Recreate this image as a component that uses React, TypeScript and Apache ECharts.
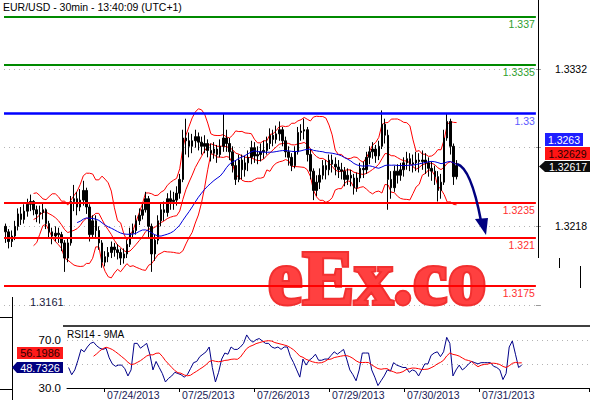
import React, { useEffect, useRef } from "react";
import * as echarts from "echarts";

// ---- categories (hourly bars) ----
const tradingDays = ["07/23/2013", "07/24/2013", "07/25/2013", "07/26/2013", "07/29/2013", "07/30/2013", "07/31/2013"];
const firstHour = [12, 0, 0, 0, 0, 0, 0];
const lastHour = [23, 23, 23, 23, 23, 23, 13];

// ---- price data ----
const firstOpen = 1.3218;
const closes = [
  1.3214, 1.3207, 1.3211, 1.3218, 1.3227, 1.3223, 1.3229, 1.3234, 1.3236, 1.3230, 1.3227, 1.3228,
  1.3230, 1.3220, 1.3214, 1.3211, 1.3213, 1.3212, 1.3206, 1.3195, 1.3206, 1.3236, 1.3238, 1.3232,
  1.3237, 1.3244, 1.3232, 1.3212, 1.3222, 1.3215, 1.3206, 1.3192, 1.3196, 1.3199, 1.3203, 1.3201,
  1.3199, 1.3195, 1.3198, 1.3205, 1.3213, 1.3215, 1.3222, 1.3226, 1.3230, 1.3238, 1.3218, 1.3198,
  1.3208, 1.3222, 1.3230, 1.3228, 1.3238, 1.3236, 1.3237, 1.3242, 1.3252, 1.3282, 1.3280, 1.3276,
  1.3280, 1.3283, 1.3279, 1.3276, 1.3278, 1.3273, 1.3271, 1.3274, 1.3270, 1.3276, 1.3282, 1.3278,
  1.3272, 1.3262, 1.3252, 1.3266, 1.3259, 1.3264, 1.3268, 1.3275, 1.3269, 1.3270, 1.3272, 1.3273,
  1.3278, 1.3284, 1.3281, 1.3285, 1.3288, 1.3280, 1.3272, 1.3268, 1.3262, 1.3272, 1.3286, 1.3287,
  1.3288, 1.3270, 1.3258, 1.3244, 1.3250, 1.3255, 1.3262, 1.3259, 1.3266, 1.3263, 1.3261, 1.3259,
  1.3258, 1.3252, 1.3255, 1.3253, 1.3246, 1.3253, 1.3260, 1.3259, 1.3268, 1.3272, 1.3274, 1.3269,
  1.3276, 1.3292, 1.3284, 1.3252, 1.3246, 1.3258, 1.3255, 1.3259, 1.3264, 1.3267, 1.3263, 1.3264,
  1.3266, 1.3265, 1.3266, 1.3264, 1.3260, 1.3258, 1.3254, 1.3244, 1.3250, 1.3282, 1.3294, 1.3276,
  1.3254, 1.3262,
];
const highs = [
  1.3220, 1.3216, 1.3215, 1.3222, 1.3231, 1.3232, 1.3234, 1.3238, 1.3241, 1.3237, 1.3233, 1.3233,
  1.3235, 1.3231, 1.3222, 1.3217, 1.3218, 1.3217, 1.3214, 1.3208, 1.3210, 1.3240, 1.3248, 1.3243,
  1.3245, 1.3251, 1.3246, 1.3234, 1.3226, 1.3226, 1.3218, 1.3208, 1.3200, 1.3203, 1.3207, 1.3206,
  1.3205, 1.3202, 1.3202, 1.3208, 1.3217, 1.3220, 1.3226, 1.3231, 1.3235, 1.3243, 1.3240, 1.3220,
  1.3212, 1.3226, 1.3235, 1.3236, 1.3242, 1.3244, 1.3243, 1.3247, 1.3256, 1.3288, 1.3296, 1.3286,
  1.3285, 1.3288, 1.3286, 1.3283, 1.3284, 1.3281, 1.3278, 1.3279, 1.3277, 1.3281, 1.3300, 1.3288,
  1.3282, 1.3276, 1.3266, 1.3270, 1.3270, 1.3269, 1.3273, 1.3280, 1.3279, 1.3276, 1.3278, 1.3280,
  1.3283, 1.3289, 1.3288, 1.3291, 1.3294, 1.3290, 1.3283, 1.3276, 1.3271, 1.3276, 1.3290, 1.3292,
  1.3296, 1.3290, 1.3274, 1.3260, 1.3255, 1.3260, 1.3266, 1.3266, 1.3270, 1.3270, 1.3268, 1.3266,
  1.3264, 1.3261, 1.3260, 1.3259, 1.3256, 1.3257, 1.3264, 1.3265, 1.3272, 1.3276, 1.3279, 1.3277,
  1.3280, 1.3302, 1.3296, 1.3288, 1.3258, 1.3262, 1.3263, 1.3264, 1.3268, 1.3272, 1.3271, 1.3270,
  1.3272, 1.3271, 1.3273, 1.3271, 1.3268, 1.3265, 1.3262, 1.3258, 1.3256, 1.3288, 1.3300, 1.3296,
  1.3278, 1.3266,
];
const lows = [
  1.3206, 1.3202, 1.3203, 1.3208, 1.3215, 1.3219, 1.3220, 1.3225, 1.3229, 1.3226, 1.3221, 1.3220,
  1.3223, 1.3216, 1.3209, 1.3205, 1.3207, 1.3206, 1.3200, 1.3185, 1.3192, 1.3204, 1.3229, 1.3226,
  1.3229, 1.3233, 1.3227, 1.3207, 1.3209, 1.3210, 1.3201, 1.3188, 1.3189, 1.3192, 1.3195, 1.3196,
  1.3194, 1.3190, 1.3191, 1.3195, 1.3203, 1.3209, 1.3212, 1.3219, 1.3223, 1.3228, 1.3210, 1.3185,
  1.3193, 1.3205, 1.3218, 1.3222, 1.3225, 1.3230, 1.3230, 1.3233, 1.3238, 1.3250, 1.3270, 1.3268,
  1.3271, 1.3275, 1.3273, 1.3270, 1.3271, 1.3268, 1.3265, 1.3267, 1.3264, 1.3268, 1.3272, 1.3272,
  1.3266, 1.3257, 1.3248, 1.3250, 1.3252, 1.3254, 1.3258, 1.3263, 1.3264, 1.3263, 1.3265, 1.3267,
  1.3270, 1.3274, 1.3276, 1.3278, 1.3280, 1.3276, 1.3268, 1.3262, 1.3258, 1.3260, 1.3270, 1.3280,
  1.3281, 1.3265, 1.3252, 1.3237, 1.3240, 1.3245, 1.3252, 1.3252, 1.3255, 1.3257, 1.3255, 1.3253,
  1.3252, 1.3247, 1.3248, 1.3247, 1.3241, 1.3243, 1.3250, 1.3253, 1.3256, 1.3263, 1.3267, 1.3264,
  1.3266, 1.3274, 1.3278, 1.3230, 1.3238, 1.3243, 1.3249, 1.3251, 1.3254, 1.3259, 1.3258, 1.3257,
  1.3258, 1.3257, 1.3259, 1.3256, 1.3254, 1.3251, 1.3248, 1.3236, 1.3238, 1.3248, 1.3280, 1.3270,
  1.3248, 1.3252,
];

// ---- RSI(14) values ----
const rsi14 = [
  47, 41, 45, 53, 62, 60, 64, 67, 68, 65, 63, 62,
  63, 55, 50, 48, 49, 49, 46, 40, 45, 67, 67, 63,
  65, 67, 58, 45, 52, 47, 42, 35, 38, 40, 43, 42,
  41, 39, 41, 46, 51, 52, 56, 58, 60, 64, 47, 35,
  43, 54, 59, 58, 64, 62, 62, 64, 67, 74, 70, 68,
  70, 71, 69, 67, 67, 64, 63, 64, 62, 64, 64, 56,
  51, 45, 39, 54, 49, 53, 55, 58, 53, 53, 54, 54,
  57, 60, 58, 60, 62, 54, 45, 41, 36, 45, 59, 59,
  59, 45, 39, 32, 36, 40, 45, 44, 51, 49, 48, 47,
  47, 43, 45, 44, 40, 45, 50, 50, 57, 59, 60, 56,
  60, 72, 67, 40, 45, 49, 45, 47, 50, 52, 51, 50,
  51, 51, 51, 51, 48, 47, 45, 37, 42, 64, 69, 58,
  47, 49,
];

// ---- levels / ticks / labels ----
const levelValues = [1.337, 1.3335, 1.33, 1.3235, 1.321, 1.3175];
const levelColors = ["#008a00", "#008a00", "#0000ff", "#ff0000", "#ff0000", "#ff0000"];
const levelLabelColors = ["#2e9e2e", "#2e9e2e", "#5a5aff", "#ff3030", "#ff3030", "#ff3030"];
const priceAxisMin = 1.3161;
const priceAxisMax = 1.3382;
const priceAxisStep = 0.0057;
const priceLabelsShown = ["1.3218", "1.3332"];
const rsiLabelsShown = ["30.0", "70.0"];
const lastPrices = ["1.3263", "1.32629", "1.32617"];
const lastRsi = ["56.1986", "48.7326"];
const title = "EUR/USD - 30min - 13:40:09 (UTC+1)";
const rsiTitle = "RSI14 - 9MA";

// ---- derived tables ----
const categories: string[] = [];
tradingDays.forEach((d, k) => {
  for (let h = firstHour[k]; h <= lastHour[k]; h++) categories.push(d + " " + String(h).padStart(2, "0") + ":00");
});
const padTo = (n: number) => {
  const out = categories.slice();
  let k = 0;
  while (out.length < n) out.push("pad" + k++);
  return out;
};
const N_MAIN = 171;
const N_RSI = 167;
const catsMain = padTo(N_MAIN);
const catsRsi = padTo(N_RSI);

const opens = closes.map((c, i) => (i === 0 ? firstOpen : closes[i - 1]));
const candleData = closes.map((c, i) => [opens[i], c, lows[i], highs[i]]);

const mean = (w: number[]) => w.reduce((a, b) => a + b, 0) / w.length;
const sd = (w: number[]) => {
  const m = mean(w);
  return Math.sqrt(w.reduce((a, b) => a + (b - m) * (b - m), 0) / w.length);
};
const rolling = (vals: number[], n: number, fn: (w: number[]) => number) =>
  vals.map((_, i) => (i < n - 1 ? null : fn(vals.slice(i - n + 1, i + 1))));
const bbMid = rolling(closes, 10, mean);
const bbUp = rolling(closes, 10, (w) => mean(w) + 2 * sd(w));
const bbLow = rolling(closes, 10, (w) => mean(w) - 2 * sd(w));
const ma24 = rolling(closes, 24, mean);
const rsiMa = rolling(rsi14, 9, mean);

const isDayStart = (idx: number) => !!catsRsi[idx] && catsRsi[idx].endsWith(" 00:00");

const FONT = '"Liberation Sans", Arial, sans-serif';

const txt = (x: number, y: number, text: string, size: number, fill: string, align = "left", z = 50) => ({
  type: "text",
  x,
  y,
  z,
  silent: true,
  style: {
    text,
    font: size + "px " + FONT,
    fill,
    textAlign: align,
    align,
    textVerticalAlign: "middle",
    verticalAlign: "middle",
  },
});

const option: any = {
  animation: false,
  backgroundColor: "#ffffff",
  textStyle: { fontFamily: FONT },
  grid: [
    { left: 4, top: 0, right: 51.6, bottom: 95 },
    { left: 67, top: 326, right: 1.1, bottom: 11 },
  ],
  xAxis: [
    {
      type: "category",
      gridIndex: 0,
      data: catsMain,
      boundaryGap: true,
      show: false,
    },
    {
      type: "category",
      gridIndex: 1,
      data: catsRsi,
      boundaryGap: true,
      axisLine: { show: true, lineStyle: { color: "#000", width: 1 } },
      axisTick: { show: true, length: 4, interval: (idx: number) => isDayStart(idx), lineStyle: { color: "#000" } },
      axisLabel: {
        show: true,
        interval: (idx: number) => isDayStart(idx),
        formatter: (v: string) => v.split(" ")[0],
        align: "left",
        margin: 1,
        padding: [0, 0, 0, 1],
        fontSize: 10.5,
        color: "#1a1a55",
      },
      splitLine: { show: false },
    },
  ],
  yAxis: [
    {
      type: "value",
      gridIndex: 0,
      position: "right",
      min: priceAxisMin,
      max: priceAxisMax,
      interval: priceAxisStep,
      axisLine: { show: false },
      axisTick: { show: true, length: 5, lineStyle: { color: "#999" } },
      axisLabel: {
        margin: 19,
        fontSize: 10.5,
        color: "#000",
        showMaxLabel: false,
        formatter: (v: number) => (priceLabelsShown.includes(v.toFixed(4)) ? v.toFixed(4) : ""),
      },
      splitLine: { show: true, showMaxLine: false, lineStyle: { color: "#b4b4b4", type: [1, 4], width: 1 } },
    },
    {
      type: "value",
      gridIndex: 1,
      position: "left",
      min: 30,
      max: 81.4,
      interval: 20,
      axisLine: { show: false },
      axisTick: { show: false },
      axisLabel: {
        margin: 6,
        fontSize: 11.5,
        color: "#000",
        showMaxLabel: false,
        formatter: (v: number) => (rsiLabelsShown.includes(v.toFixed(1)) ? v.toFixed(1) : ""),
      },
      splitLine: { show: true, showMaxLine: false, showMinLine: false, lineStyle: { color: "#b4b4b4", type: [1, 4], width: 1 } },
    },
  ],
  series: [
    {
      type: "candlestick",
      xAxisIndex: 0,
      yAxisIndex: 0,
      data: candleData,
      barWidth: 2,
      z: 3,
      itemStyle: { color: "#000", color0: "#000", borderColor: "#000", borderColor0: "#000", borderWidth: 1 },
    },
    { type: "line", xAxisIndex: 0, yAxisIndex: 0, data: bbUp, showSymbol: false, z: 3, lineStyle: { color: "#ff0000", width: 1 } },
    { type: "line", xAxisIndex: 0, yAxisIndex: 0, data: bbMid, showSymbol: false, z: 3, lineStyle: { color: "#ff0000", width: 1 } },
    { type: "line", xAxisIndex: 0, yAxisIndex: 0, data: bbLow, showSymbol: false, z: 3, lineStyle: { color: "#ff0000", width: 1 } },
    {
      type: "line",
      xAxisIndex: 0,
      yAxisIndex: 0,
      data: ma24,
      showSymbol: false,
      z: 4,
      lineStyle: { color: "#0000dd", width: 1 },
      markLine: {
        silent: true,
        symbol: ["none", "none"],
        precision: 4,
        animation: false,
        data: levelValues.map((v, i) => ({
          yAxis: v,
          lineStyle: { color: levelColors[i], width: i === 2 ? 2.5 : 2, type: "solid" },
          label: {
            show: true,
            formatter: String(v),
            position: "insideEndBottom",
            color: levelLabelColors[i],
            fontSize: 10.5,
            distance: [1, 2],
          },
        })),
      },
    },
    { type: "line", xAxisIndex: 1, yAxisIndex: 1, data: rsi14, showSymbol: false, lineStyle: { color: "#000088", width: 1 } },
    { type: "line", xAxisIndex: 1, yAxisIndex: 1, data: rsiMa, showSymbol: false, lineStyle: { color: "#ff0000", width: 1 } },
  ],
  graphic: [
    // watermark
    {
      type: "text",
      x: 377,
      y: 277,
      z: 1,
      silent: true,
      style: {
        text: "eEx.co",
        font: 'bold 78px "Liberation Serif", "DejaVu Serif", serif',
        textAlign: "center",
        align: "center",
        textVerticalAlign: "middle",
        verticalAlign: "middle",
        fill: "#ff4040",
        stroke: "#f23030",
        lineWidth: 4,
      },
    },
    // title
    txt(3, 7, title, 10.5, "#000"),
    // right axis line
    { type: "line", z: 40, silent: true, shape: { x1: 538.5, y1: 0, x2: 538.5, y2: 258 }, style: { stroke: "#000", lineWidth: 1 } },
    { type: "line", z: 40, silent: true, shape: { x1: 559.5, y1: 258, x2: 559.5, y2: 268 }, style: { stroke: "#000", lineWidth: 1 } },
    { type: "line", z: 40, silent: true, shape: { x1: 580.5, y1: 266, x2: 580.5, y2: 288 }, style: { stroke: "#000", lineWidth: 1 } },
    // forecast arrow
    {
      type: "bezierCurve",
      z: 20,
      silent: true,
      shape: { x1: 457, y1: 164, cpx1: 471, cpy1: 168, x2: 481, y2: 221 },
      style: { stroke: "#000080", lineWidth: 2.5, fill: "none" },
    },
    {
      type: "polygon",
      z: 20,
      silent: true,
      shape: { points: [[475, 219], [488, 218], [486, 235]] },
      style: { fill: "#000080" },
    },
    // price badges
    { type: "rect", z: 50, silent: true, shape: { x: 545, y: 133, width: 38, height: 13 }, style: { fill: "#1e1eff" } },
    txt(564, 139.5, lastPrices[0], 10.5, "#ffffff", "center", 51),
    { type: "rect", z: 50, silent: true, shape: { x: 545, y: 147, width: 45, height: 13 }, style: { fill: "#ff1414" } },
    txt(567.5, 153.5, lastPrices[1], 10.5, "#2a0000", "center", 51),
    {
      type: "polygon",
      z: 50,
      silent: true,
      shape: { points: [[539, 166.5], [545, 161], [590, 161], [590, 172], [545, 172]] },
      style: { fill: "#0d0d0d" },
    },
    txt(568, 166.5, lastPrices[2], 10.5, "#ffffff", "center", 51),
    // left glitch elements
    { type: "line", z: 40, silent: true, shape: { x1: 12.5, y1: 297, x2: 12.5, y2: 400 }, style: { stroke: "#000", lineWidth: 1 } },
    { type: "line", z: 40, silent: true, shape: { x1: 0, y1: 317.5, x2: 12, y2: 317.5 }, style: { stroke: "#000", lineWidth: 1 } },
    { type: "line", z: 40, silent: true, shape: { x1: 0, y1: 389.5, x2: 12, y2: 389.5 }, style: { stroke: "#000", lineWidth: 1 } },
    txt(30, 302, "1.3161", 11, "#1a1a40"),
    // RSI panel
    { type: "line", z: 40, silent: true, shape: { x1: 63, y1: 326, x2: 590, y2: 326 }, style: { stroke: "#000", lineWidth: 1.5 } },
    txt(67, 334, rsiTitle, 10, "#000"),
    { type: "rect", z: 50, silent: true, shape: { x: 17, y: 347, width: 46, height: 12 }, style: { fill: "#ff1a1a" } },
    txt(40, 353, lastRsi[0], 11, "#300000", "center", 51),
    {
      type: "polygon",
      z: 50,
      silent: true,
      shape: { points: [[12, 367.5], [17, 362], [63, 362], [63, 373], [17, 373]] },
      style: { fill: "#000080" },
    },
    txt(40, 367.5, lastRsi[1], 11, "#ffffff", "center", 51),
  ],
};

export default function App() {
  const ref = useRef<HTMLDivElement>(null);
  useEffect(() => {
    document.body.style.margin = "0";
    const chart = echarts.init(ref.current as HTMLDivElement, null, { renderer: "svg" });
    chart.setOption(option);
    return () => chart.dispose();
  }, []);
  return <div ref={ref} style={{ width: 590, height: 400 }} />;
}
